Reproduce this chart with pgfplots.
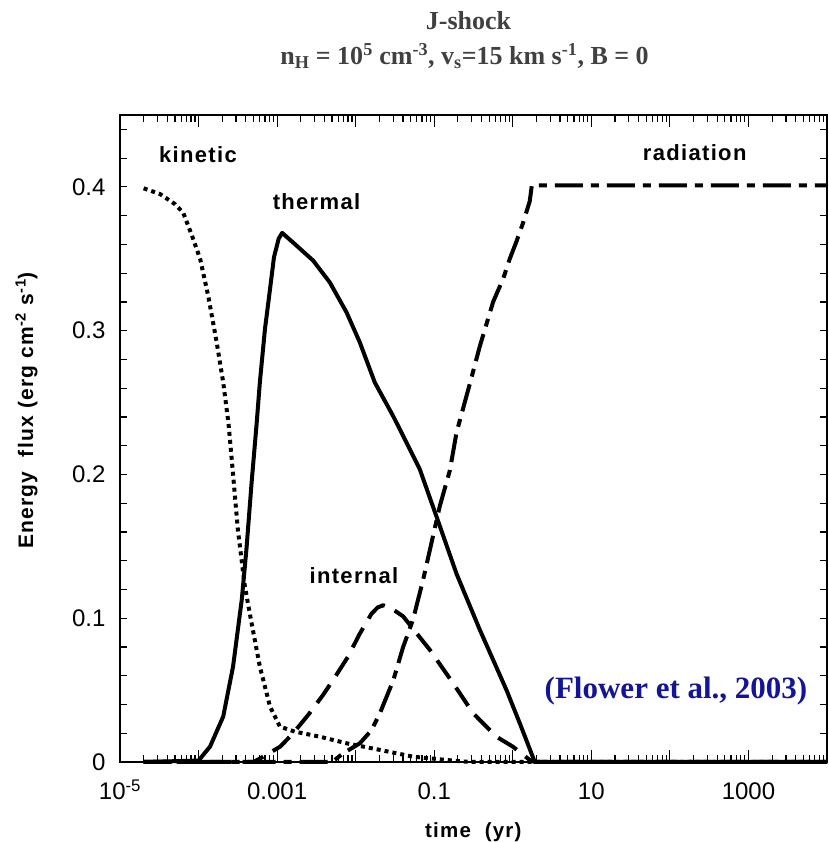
\documentclass[border=0pt]{standalone}
\usepackage{pgfplots}
\pgfplotsset{compat=1.18}
\usepackage{fontspec}
\setmainfont{Liberation Sans}
\newfontfamily\lblfont[LetterSpace=6]{Liberation Sans}
\newfontfamily\titlefont{Liberation Serif}
\definecolor{titlegray}{RGB}{64,64,64}
\definecolor{flowerblue}{RGB}{20,20,150}

\pgfplotstableread{
t E
2.0e-5 0.399
3.24e-5 0.395
5.01e-5 0.388
6.38e-5 0.382
8.13e-5 0.367
1.047e-4 0.350
1.33e-4 0.324
1.70e-4 0.292
2.06e-4 0.264
2.40e-4 0.236
2.63e-4 0.212
3.16e-4 0.162
3.89e-4 0.122
4.73e-4 0.0966
6.03e-4 0.0664
8.13e-4 0.0385
1.086e-3 0.0246
1.68e-3 0.0211
3.50e-3 0.0176
7.66e-3 0.0130
0.0204 0.0084
0.0537 0.0037
0.143 0.0014
0.257 0.0002
0.5 0
1e4 0
}\kinetic

\pgfplotstableread{
t E
2.0e-5 0
1.0e-4 0.001
1.40e-4 0.0107
2.06e-4 0.0316
2.75e-4 0.0664
3.55e-4 0.113
4.07e-4 0.148
4.73e-4 0.194
5.50e-4 0.236
6.03e-4 0.264
7.0e-4 0.301
8.13e-4 0.329
9.12e-4 0.351
1.047e-3 0.364
1.16e-3 0.368
1.78e-3 0.359
2.88e-3 0.3487
4.68e-3 0.3336
7.66e-3 0.3127
0.0113 0.2918
0.01754 0.2639
0.030 0.2406
0.0444 0.2221
0.0656 0.2035
0.0879 0.1838
0.108 0.170
0.192 0.131
0.380 0.092
0.832 0.050
1.227 0.027
1.905 0
1e4 0
}\thermal

\pgfplotstableread{
t E
2.0e-5 0
5.01e-4 0
6.65e-4 0.0037
1.096e-3 0.0107
1.60e-3 0.020
2.51e-3 0.033
3.89e-3 0.047
5.75e-3 0.061
7.94e-3 0.073
0.01122 0.089
0.01585 0.103
0.01905 0.1075
0.02239 0.109
0.02818 0.107
0.0402 0.1013
0.0879 0.078
0.1738 0.0548
0.3126 0.0339
0.619 0.0176
1.0 0.0107
1.644 0.0014
1.905 0
1e4 0
}\internal

\pgfplotstableread{
t E
2.0e-5 0
5.01e-3 0
6.92e-3 0.006
0.0113 0.013
0.01585 0.022
0.0204 0.034
0.0302 0.057
0.0402 0.080
0.0537 0.099
0.0724 0.127
0.1178 0.178
0.1585 0.203
0.192 0.229
0.2838 0.263
0.380 0.289
0.562 0.320
0.753 0.336
0.916 0.350
1.114 0.362
1.352 0.375
1.644 0.390
1.746 0.401
1e4 0.401
}\radiation

\begin{document}
\begin{tikzpicture}[x=1bp,y=1bp]
\path[use as bounding box] (0,0) rectangle (829,842);
\begin{axis}[
  at={(120bp,80bp)}, anchor=south west,
  scale only axis, width=707bp, height=647bp,
  xmode=log, xmin=1e-5, xmax=1e4, ymin=0, ymax=0.45,
  clip=false,
  axis line style={line width=1.3bp},
  xtick={1e-5,1e-4,1e-3,1e-2,1e-1,1,10,100,1000,10000},
  xticklabels={10\textsuperscript{-5},,0.001,,0.1,,10,,1000,},
  minor xtick={2e-5,3e-5,4e-5,5e-5,6e-5,7e-5,8e-5,9e-5,
    2e-4,3e-4,4e-4,5e-4,6e-4,7e-4,8e-4,9e-4,
    2e-3,3e-3,4e-3,5e-3,6e-3,7e-3,8e-3,9e-3,
    2e-2,3e-2,4e-2,5e-2,6e-2,7e-2,8e-2,9e-2,
    0.2,0.3,0.4,0.5,0.6,0.7,0.8,0.9,
    2,3,4,5,6,7,8,9,
    20,30,40,50,60,70,80,90,
    200,300,400,500,600,700,800,900,
    2000,3000,4000,5000,6000,7000,8000,9000},
  ytick={0,0.1,0.2,0.3,0.4},
  yticklabels={0,0.1,0.2,0.3,0.4},
  minor ytick={0.02,0.04,0.06,0.08,0.12,0.14,0.16,0.18,0.22,0.24,0.26,0.28,0.32,0.34,0.36,0.38,0.42,0.44},
  x tick style={line width=1.2bp, black, /pgfplots/major tick length=12bp, /pgfplots/minor tick length=7bp},
  y tick style={line width=1.2bp, black, /pgfplots/major tick length=7bp, /pgfplots/minor tick length=7bp},
  x tick label style={font=\fontsize{24bp}{28bp}\selectfont, anchor=base, yshift=-38bp},
  y tick label style={font=\fontsize{24bp}{28bp}\selectfont, xshift=-11bp},
  /pgf/number format/assume math mode=true,
  every axis plot/.append style={line width=4bp, line join=round, black},
]
\addplot[dash pattern=on 4bp off 4bp] table[x=t,y=E] {\kinetic};
\addplot[solid] table[x=t,y=E] {\thermal};
\addplot[dash pattern=on 22bp off 11bp] table[x=t,y=E] {\internal};
\addplot[dash pattern=on 28bp off 8bp on 8bp off 8bp] table[x=t,y=E] {\radiation};
\end{axis}
\node[anchor=base, font=\titlefont\bfseries\fontsize{26bp}{30bp}\selectfont, text=titlegray] at (468.5,812) {J-shock};
\node[anchor=base, font=\titlefont\bfseries\fontsize{26bp}{30bp}\selectfont, text=titlegray] at (464.5,777) {n\textsubscript{H} = 10\textsuperscript{5} cm\textsuperscript{-3}, v\textsubscript{s}=15 km s\textsuperscript{-1}, B = 0};
\node[anchor=base, font=\lblfont\bfseries\fontsize{22bp}{26bp}\selectfont] at (198,679.3) {kinetic};
\node[anchor=base, font=\lblfont\bfseries\fontsize{22bp}{26bp}\selectfont] at (316.5,632.7) {thermal};
\node[anchor=base, font=\lblfont\bfseries\fontsize{22bp}{26bp}\selectfont] at (354,258.7) {internal};
\node[anchor=base, font=\lblfont\bfseries\fontsize{22bp}{26bp}\selectfont] at (694.7,681.3) {radiation};
\node[anchor=base, font=\titlefont\bfseries\fontsize{31bp}{35bp}\selectfont, text=flowerblue] at (676,143.7) {(Flower et al., 2003)};
\node[anchor=base, font=\lblfont\bfseries\fontsize{20.5bp}{24bp}\selectfont] at (473.3,4.7) {time\ \ (yr)};
\node[anchor=base, rotate=90, font=\lblfont\bfseries\fontsize{21bp}{25bp}\selectfont] at (33,431.5) {Energy\ \ flux (erg cm\textsuperscript{-2} s\textsuperscript{-1})};
\end{tikzpicture}
\end{document}
